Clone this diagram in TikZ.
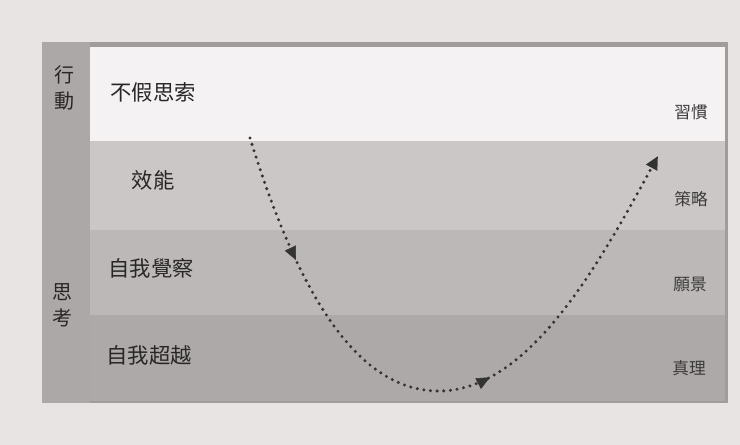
\documentclass[tikz,border=0pt]{standalone}
\usepackage{fontspec}
\newfontfamily\cjk{Noto Sans CJK TC}
\usetikzlibrary{arrows.meta,decorations.markings}
\definecolor{pagebg}{RGB}{232,228,228}
\definecolor{frame}{RGB}{160,156,156}
\definecolor{leftcol}{RGB}{172,168,168}
\definecolor{rowA}{RGB}{244,242,242}
\definecolor{rowB}{RGB}{203,199,199}
\definecolor{rowC}{RGB}{188,184,184}
\definecolor{rowD}{RGB}{173,169,169}
\definecolor{txt}{RGB}{40,38,38}
\definecolor{rtxt}{RGB}{60,58,58}
\tikzset{
  leftlabel/.style={font=\cjk\fontsize{16}{16}\selectfont, text=txt, inner sep=0pt},
  rightlabel/.style={font=\cjk\fontsize{12.5}{12.5}\selectfont, text=rtxt, inner sep=0pt},
  sidelabel/.style={font=\cjk\fontsize{15}{19.5}\selectfont, text=txt, align=center, inner sep=0pt},
  journey/.style={line width=2.5pt, line cap=round, dash pattern=on 0pt off 5pt, draw=black!80,
    -{Triangle[length=10pt,width=9pt]},
    postaction={decorate, decoration={markings,
      mark=at position 0.195 with {\arrow[black!80,line width=0.4pt]{Triangle[length=10pt,width=9pt]}},
      mark=at position 0.58 with {\arrow[black!80,line width=0.4pt]{Triangle[length=10pt,width=9pt]}}}}}
}
\begin{document}
\begin{tikzpicture}[x=0.75pt,y=-0.75pt]
\useasboundingbox (0,0) rectangle (740,445);
\fill[pagebg] (0,0) rectangle (740,445);
% frame
\fill[frame] (42,42) rectangle (728,403);
\fill[leftcol] (42,42) rectangle (90,403);
% rows
\fill[rowA] (90,47) rectangle (725,141);
\fill[rowB] (90,141) rectangle (725,230);
\fill[rowC] (90,230) rectangle (725,315);
\fill[rowD] (90,315) rectangle (725,401);
% side labels
\node[sidelabel] (act) at (64,88) {行\\動};
\node[sidelabel] (think) at (62,305) {思\\考};
% left labels
\node[leftlabel] (l1) at (153,92) {不假思索};
\node[leftlabel] (l2) at (153,180) {效能};
\node[leftlabel] (l3) at (151,268) {自我覺察};
\node[leftlabel] (l4) at (149,355) {自我超越};
% right labels
\node[rightlabel] (r1) at (691,112) {習慣};
\node[rightlabel] (r2) at (691,199) {策略};
\node[rightlabel] (r3) at (690,284) {願景};
\node[rightlabel] (r4) at (689,368) {真理};
% journey
\coordinate (s) at (250,138);
\coordinate (b) at (440,391);
\coordinate (e) at (658,156);
\draw[journey] (s) .. controls (300,300) and (360,392) .. (b)
  .. controls (530,390) and (600,262) .. (e);
\end{tikzpicture}
\end{document}
